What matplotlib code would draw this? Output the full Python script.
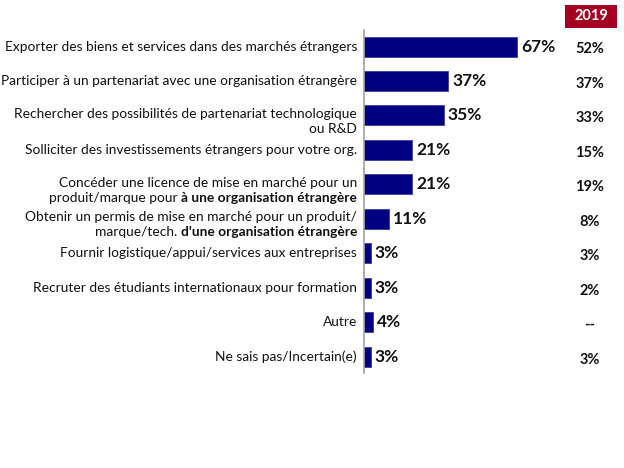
import matplotlib
matplotlib.use("Agg")
import matplotlib.pyplot as plt
from matplotlib.patches import Rectangle
from matplotlib.transforms import blended_transform_factory

plt.rcParams['font.family'] = ['Lato', 'DejaVu Sans']

# each label: list of lines, each line: list of (text, bold)
labels = [
    [[("Exporter des biens et services dans des marchés étrangers", False)]],
    [[("Participer à un partenariat avec une organisation étrangère", False)]],
    [[("Rechercher des possibilités de partenariat technologique", False)],
     [("ou R&D", False)]],
    [[("Solliciter des investissements étrangers pour votre org.", False)]],
    [[("Concéder une licence de mise en marché pour un", False)],
     [("produit/marque pour ", False), ("à une organisation étrangère", True)]],
    [[("Obtenir un permis de mise en marché pour un produit/", False)],
     [("marque/tech. ", False), ("d'une organisation étrangère", True)]],
    [[("Fournir logistique/appui/services aux entreprises", False)]],
    [[("Recruter des étudiants internationaux pour formation", False)]],
    [[("Autre", False)]],
    [[("Ne sais pas/Incertain(e)", False)]],
]
values = [67, 37, 35, 21, 21, 11, 3, 3, 4, 3]
values_2019 = ["52%", "37%", "33%", "15%", "19%", "8%", "3%", "2%", "--", "3%"]

fig = plt.figure(figsize=(6.24, 4.68), dpi=100)
ax = fig.add_axes([364 / 624, 1 - 373 / 468, 260 / 624, 343 / 468])

ypos = list(range(len(values)))
ax.barh(ypos, values, height=0.58, color="#000080", edgecolor="#3a3aa0", linewidth=0.6)
ax.set_xlim(0, 114)
ax.set_ylim(9.47, -0.48)
ax.set_xticks([])
ax.set_yticks([])
for s in ["top", "right", "bottom"]:
    ax.spines[s].set_visible(False)
ax.spines["left"].set_color("#a0a0a0")
ax.spines["left"].set_linewidth(1.2)

fs = 9.9
for i, lines in enumerate(labels):
    n = len(lines)
    for k, line in enumerate(lines):
        dy = -((k - (n - 1) / 2) * 15) - (6 if n > 1 else 0)
        prev = None
        for text, bold in reversed(line):
            w = "bold" if bold else "normal"
            if prev is None:
                prev = ax.annotate(text, xy=(0, i), xycoords=("axes fraction", "data"),
                                   xytext=(-7, dy), textcoords="offset pixels",
                                   ha="right", va="center", fontsize=fs, fontweight=w,
                                   color="#111111")
            else:
                prev = ax.annotate(text, xy=(0, 0.5), xycoords=prev,
                                   ha="right", va="center", fontsize=fs, fontweight=w,
                                   color="#111111")

for i, v in enumerate(values):
    ax.annotate(f"{v}%", xy=(v, i), xytext=(4, 0), textcoords="offset pixels",
                ha="left", va="center", fontsize=12.5, fontweight="bold", color="#111111")

tr = blended_transform_factory(fig.transFigure, ax.transData)
for i, v in enumerate(values_2019):
    ax.text(590 / 624, i + 0.08, v, transform=tr, ha="center", va="center",
            fontsize=10.5, fontweight="bold", color="#111111", clip_on=False)

fig.patches.append(Rectangle((565 / 624, 1 - 28 / 468), 52 / 624, 23 / 468,
                             transform=fig.transFigure, facecolor="#a50021",
                             edgecolor="none"))
fig.text(591 / 624, 1 - 16.5 / 468, "2019", ha="center", va="center", fontsize=10.5,
         fontweight="bold", color="white")

fig.savefig("out.png", dpi=100)
